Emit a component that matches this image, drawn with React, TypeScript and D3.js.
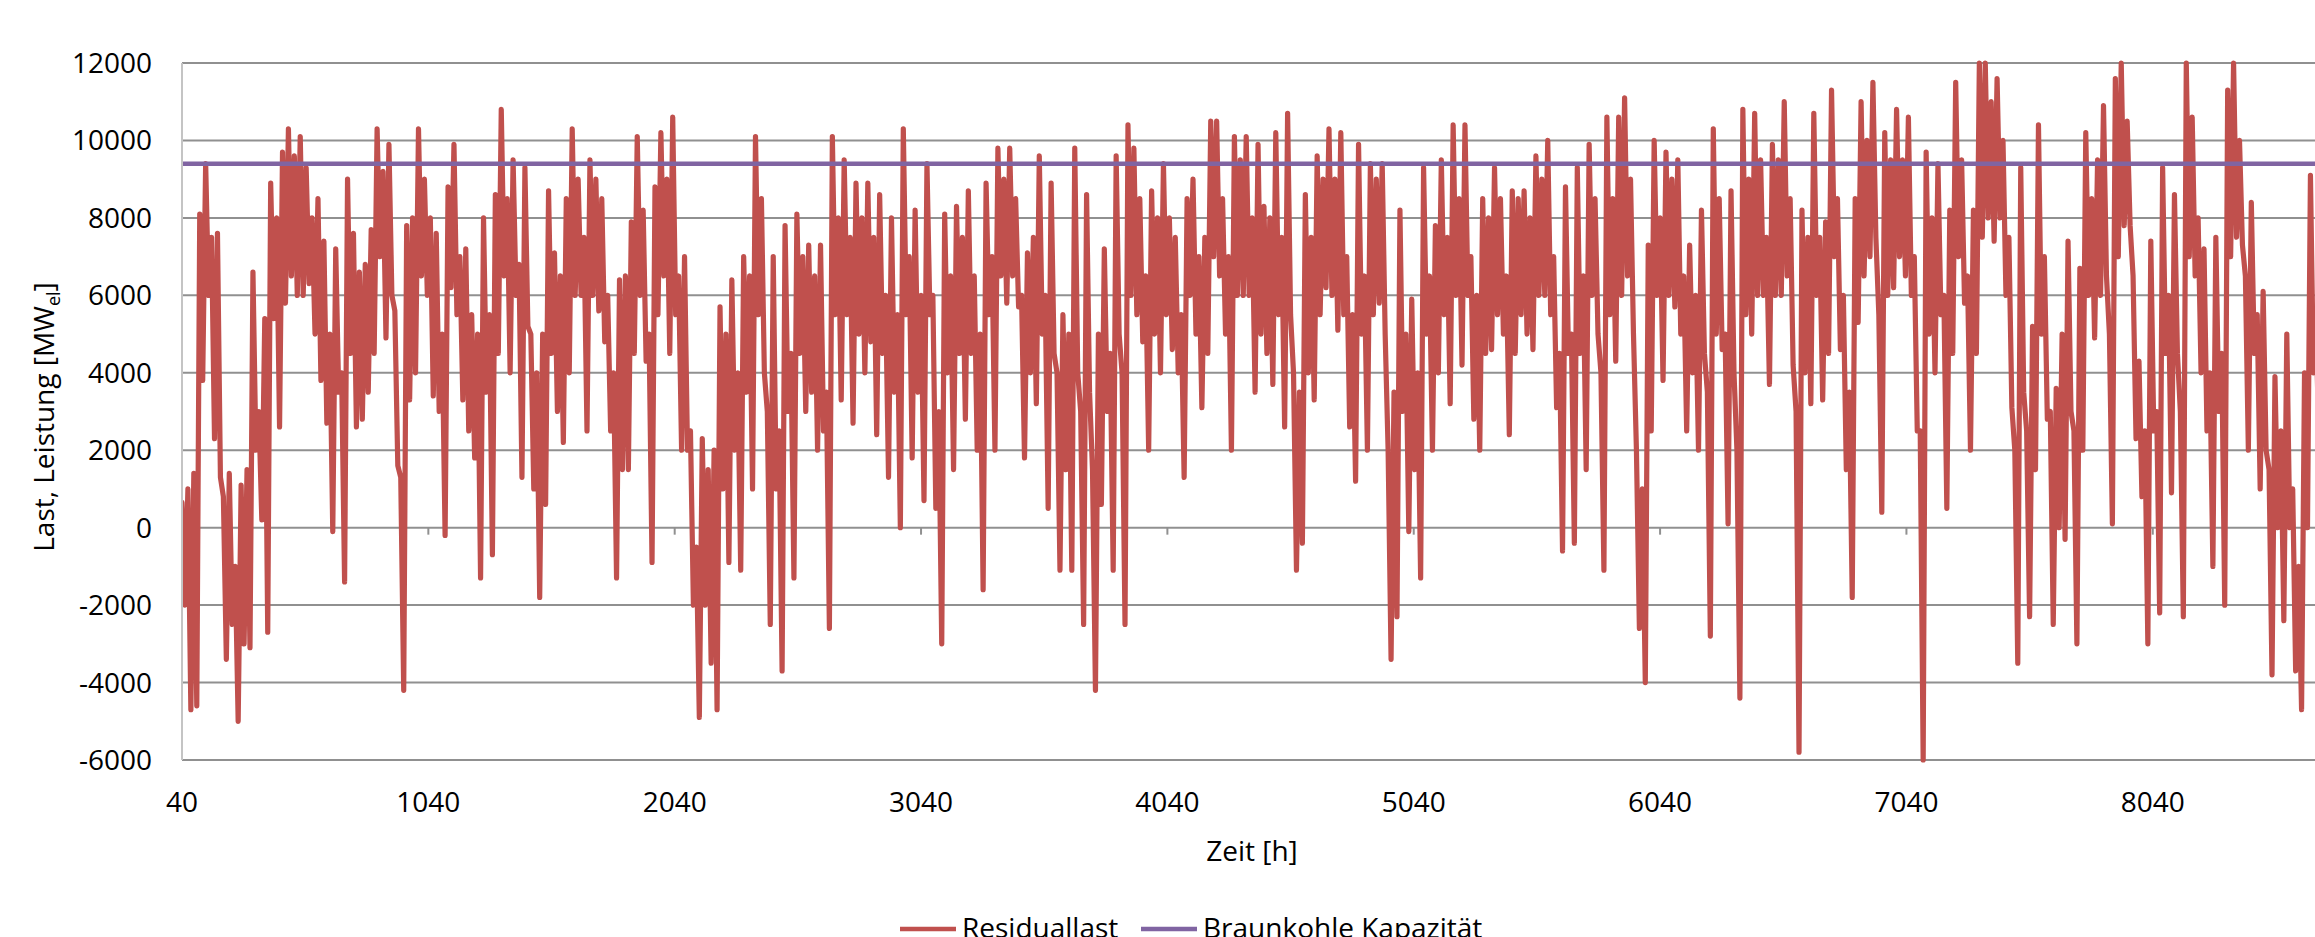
import React, { useEffect, useRef } from "react";
import { select, scaleLinear, line } from "d3";

// two readings per day: the day's top and bottom of the load band
const startHour = 40;
const stepHours = 24;
const halfStep = 12;

const residualJanFeb = [
  650, -4700, 1400, 8100, 9400, 2300, 7600, -3400, 1400, -5000, 1100, -3100, 6600, 200, -2700, 8900,
  2600, 9700, 10300, 6000, 10100, 6300, 5000, 8500, 2700, -100, 7200, -1400, 9000, 2600, 6600, 3500,
  7700, 10300, 4900, 9900, 1600, -4200, 3300, 8000, 10300, 6000, 3400, 7600, -200, 6200, 9900, 3300,
  7200, 5500, -1300, 3500, -700, 8600, 10800, 4000, 9500, 1300, 9300, 5000, -1800,
];
const residualJanFeb12h = [
  -2000, 1000, -4600, 3800, 6000, 7500, 1300, 800, -2500, -1000, -3000, 1500, 2000, 3000, 5400, 5400,
  8000, 5800, 6500, 9600, 6000, 9300, 8000, 3800, 7400, 5000, 3500, 4000, 4500, 7600, 2800, 6800,
  4500, 7000, 9200, 6000, 5600, 1300, 7800, 4000, 6500, 9000, 8000, 3000, 5000, 8800, 5500, 7000,
  2500, 1800, 5000, 8000, 5500, 4500, 6500, 8500, 6000, 6800, 5200, 1000, 4000,
];
const residualMarApr = [
  600, 8700, 7100, 2200, 4000, 10300, 6000, 2500, 9500, 5600, 8500, 2500, -1300, 6400, 1500, 7900,
  10100, 4300, -900, 8800, 10200, 4500, 10600, 2000, 7000, -2000, -4900, 2300, -3500, -4700, 5700, -900,
  6400, -1100, 7000, 1000, 10100, 4000, -2500, 7000, -3700, 7800, -1300, 8100, 3000, 7300, 2000, 7300,
  -2600, 10100, 3300, 9500, 2700, 8900, 4000, 8900, 2400, 8600, 1300, 8000, 0,
];
const residualMarApr12h = [
  5000, 4500, 3000, 6500, 8500, 6000, 9000, 7500, 6000, 9000, 4800, 6000, 4000, 1500, 6500, 4500,
  6000, 8200, 5000, 5500, 6500, 9000, 5500, 6500, 2000, 2500, -500, -2000, 1500, 2000, 1000, 5000,
  2000, 4000, 3500, 6500, 5500, 8500, 3000, 1000, 2500, 3000, 4500, 4500, 7000, 3500, 6500, 2500,
  3500, 5500, 8000, 5500, 7500, 5000, 8000, 4800, 7500, 4500, 6000, 3500, 5500,
];
const residualMayJun = [
  10300, 1800, 8200, 700, 9400, 500, -3000, 8100, 1500, 8300, 2800, 8700, 2000, -1600, 8900, 2000,
  9800, 5800, 9800, 5700, 1800, 7100, 3200, 9600, 500, 8900, -1100, 5500, -1100, 9800, -2500, 8600,
  -4200, 600, 7200, -1100, 9600, -2500, 10400, 9800, 4800, 2000, 8700, 4000, 9400, 4600, 7500, 1300,
  6000, 9000, 3100, 7500, 10500, 10500, 5000, 2000, 10100, 6000, 10100, 3500, 9900,
];
const residualMayJun12h = [
  5500, 7000, 3500, 6000, 5500, 6000, 3000, 4000, 6500, 4500, 7500, 4500, 6500, 5000, 5500, 7000,
  6500, 9000, 6500, 8500, 6000, 4000, 7500, 5000, 6000, 4500, 4000, 1500, 5000, 4000, 3000, 3500,
  1500, 5000, 3000, 4500, 5000, 4000, 6000, 5500, 8500, 6500, 5000, 8000, 5500, 8000, 4000, 5500,
  8500, 5000, 7000, 4500, 7000, 6500, 8500, 7000, 6000, 9500, 6000, 8000, 5000,
];
const residualJulAug = [
  8300, 3700, 10200, 2600, 10700, -1100, -400, 8600, 3300, 9600, 6200, 10300, 5100, 10200, 2600, 1200,
  9900, 2000, 9400, 5800, 9400, -3400, -2300, 8200, -100, 5900, -1300, 9300, 2000, 7800, 9500, 3200,
  10400, 4200, 10400, 2800, 2000, 8500, 4600, 9300, 5000, 2400, 8700, 5500, 8700, 4600, 9600, 6000,
  10000, 3100, -600, 8800, -400, 9300, 1500, 9900, 5000, -1100, 10600, 4300, 10600,
];
const residualJulAug12h = [
  4500, 8000, 5500, 7500, 5500, 4000, 3500, 4000, 7500, 5500, 9000, 6000, 9000, 5500, 7000, 5500,
  5000, 6500, 5500, 9000, 5000, 2000, 3500, 3000, 5000, 1500, 4000, 5000, 6500, 4000, 5500, 7500,
  6000, 8500, 6000, 7000, 6000, 4500, 8000, 5500, 8500, 6500, 4500, 8500, 5000, 8000, 6000, 9000,
  5500, 7000, 4500, 4500, 5000, 4500, 6500, 6000, 8500, 4000, 5500, 8500, 6000,
];
const residualSepOct = [
  11100, 5000, -2600, -4000, 7300, 10000, 3800, 9700, 5700, 9500, 2500, 7300, 2000, 8200, -2800, 10300,
  4600, 100, 8700, -4400, 10800, 5000, 10700, 6000, 3700, 9900, 6000, 11000, 4200, -5800, 8200, 3200,
  10700, 3300, 7900, 11300, 4600, 1500, -1800, 5300, 11000, 7000, 11500, 400, 10200, 6200, 10800, 6500,
  10600, 2500, -6000, 9700, 4000, 9400, 500, 8200, 11500, 5800, 2000, 8200, 12000,
];
const residualSepOct12h = [
  6500, 9000, 2000, 1000, 2500, 6000, 8000, 6000, 9000, 5000, 6500, 4000, 6000, 4500, 3500, 5000,
  8500, 5000, 4000, 2000, 5500, 9000, 6000, 9500, 7500, 6000, 9500, 6500, 8500, 3000, 4000, 7500,
  6000, 7500, 4500, 7000, 8500, 6000, 3500, 8500, 6500, 10000, 7500, 5500, 6000, 9500, 7000, 9500,
  6000, 7000, 2500, 5000, 8000, 5500, 6000, 4500, 7000, 9500, 6500, 4500, 7500,
];
const residualNovDec = [
  12000, 7400, 11600, 10000, 3100, -3500, 9300, -2300, 5200, 10400, 2800, -2500, 3600, -300, 7400, -3000,
  6700, 10200, 4900, 9500, 10900, 100, 11600, 12000, 7800, 2300, 4300, -3000, 7400, -2200, 9300, 900,
  8600, -2300, 12000, 10600, 4000, 7200, -1000, 7500, -2000, 11300, 12000, 7300, 2000, 8400, 1000, 6100,
  -3800, 3900, -2400, 5000, -3700, -4700, 0, 9100, 1700,
];
const residualNovDec12h = [
  8000, 11000, 8000, 6000, 7500, 2000, 3500, 2500, 1500, 5000, 7000, 3000, 0, 5000, 3000, 2500,
  2000, 6000, 8500, 6000, 6500, 5000, 7000, 7800, 10500, 6500, 800, 2500, 2500, 3000, 4500, 6000,
  4500, 3000, 7000, 6500, 8000, 2500, 4000, 3000, 4500, 7000, 7500, 10000, 6500, 4500, 5500, 2000,
  1500, 0, 2500, 0, 1000, -1000, 4000, 4000, 5000,
];

const braunkohleKapazitaet = 9400;

const yTicks = [-6000, -4000, -2000, 0, 2000, 4000, 6000, 8000, 10000, 12000];
const xTicks = [40, 1040, 2040, 3040, 4040, 5040, 6040, 7040, 8040];
const xDomain = [40, 8800];

const seriesNames = ["Residuallast", "Braunkohle Kapazität"];
const seriesColors = ["#C0504D", "#8064A2"];

const width = 2315;
const height = 937;
const plot = { left: 182, top: 63, right: 2340, bottom: 760 };
const font = "'Open Sans', 'Noto Sans', sans-serif";

export default function App() {
  const svgRef = useRef<SVGSVGElement>(null);

  useEffect(() => {
    const svg = select(svgRef.current);
    svg.selectAll("*").remove();

    const dayValues = [
      ...residualJanFeb,
      ...residualMarApr,
      ...residualMayJun,
      ...residualJulAug,
      ...residualSepOct,
      ...residualNovDec,
    ];
    const halfValues = [
      ...residualJanFeb12h,
      ...residualMarApr12h,
      ...residualMayJun12h,
      ...residualJulAug12h,
      ...residualSepOct12h,
      ...residualNovDec12h,
    ];
    // each day runs from its top down to its bottom, like the hourly line swinging
    const residual: { h: number; v: number }[] = [];
    dayValues.forEach((v, i) => {
      const w = halfValues[i];
      residual.push({ h: startHour + i * stepHours, v: Math.max(v, w) });
      residual.push({ h: startHour + i * stepHours + halfStep, v: Math.min(v, w) });
    });

    const x = scaleLinear().domain(xDomain).range([plot.left, plot.right]);
    const y = scaleLinear().domain([-6000, 12000]).range([plot.bottom, plot.top]);

    svg
      .append("defs")
      .append("clipPath")
      .attr("id", "plotClip")
      .append("rect")
      .attr("x", plot.left + 1)
      .attr("y", plot.top - 3)
      .attr("width", plot.right - plot.left)
      .attr("height", plot.bottom - plot.top + 6);

    // gridlines
    svg
      .append("g")
      .selectAll("line")
      .data(yTicks)
      .enter()
      .append("line")
      .attr("x1", plot.left)
      .attr("x2", plot.right)
      .attr("y1", (d) => y(d))
      .attr("y2", (d) => y(d))
      .attr("stroke", "#909090")
      .attr("stroke-width", 2);

    // value axis line
    svg
      .append("line")
      .attr("x1", plot.left)
      .attr("x2", plot.left)
      .attr("y1", plot.top)
      .attr("y2", plot.bottom)
      .attr("stroke", "#c4c4c4")
      .attr("stroke-width", 2);

    // category axis crosses at 0, tick marks pointing down
    svg
      .append("g")
      .selectAll("line")
      .data(xTicks.slice(1))
      .enter()
      .append("line")
      .attr("x1", (d) => x(d))
      .attr("x2", (d) => x(d))
      .attr("y1", y(0))
      .attr("y2", y(0) + 7)
      .attr("stroke", "#909090")
      .attr("stroke-width", 2);

    // y labels
    svg
      .append("g")
      .selectAll("text")
      .data(yTicks)
      .enter()
      .append("text")
      .attr("x", 152)
      .attr("y", (d) => y(d) + 10)
      .attr("text-anchor", "end")
      .style("font-family", font)
      .style("font-size", "28px")
      .text((d) => d);

    // x labels
    svg
      .append("g")
      .selectAll("text")
      .data(xTicks)
      .enter()
      .append("text")
      .attr("x", (d) => x(d))
      .attr("y", 812)
      .attr("text-anchor", "middle")
      .style("font-family", font)
      .style("font-size", "28px")
      .text((d) => d);

    const g = svg.append("g").attr("clip-path", "url(#plotClip)");

    g.append("path")
      .datum(residual)
      .attr("fill", "none")
      .attr("stroke", seriesColors[0])
      .attr("stroke-width", 5.2)
      .attr("stroke-linejoin", "round")
      .attr("stroke-linecap", "round")
      .attr(
        "d",
        line<{ h: number; v: number }>()
          .x((d) => x(d.h))
          .y((d) => y(d.v))
      );

    g.append("line")
      .attr("x1", x(xDomain[0]))
      .attr("x2", x(xDomain[1]))
      .attr("y1", y(braunkohleKapazitaet))
      .attr("y2", y(braunkohleKapazitaet))
      .attr("stroke", seriesColors[1])
      .attr("stroke-width", 4.5);

    // axis titles
    svg
      .append("text")
      .attr("x", 1252)
      .attr("y", 861)
      .attr("text-anchor", "middle")
      .style("font-family", font)
      .style("font-size", "28px")
      .text("Zeit [h]");

    const yTitle = svg
      .append("text")
      .attr("transform", "translate(54,417) rotate(-90)")
      .attr("text-anchor", "middle")
      .style("font-family", font)
      .style("font-size", "28px");
    yTitle.append("tspan").text("Last, Leistung [MW");
    yTitle.append("tspan").attr("dy", 6).style("font-size", "18px").text("el");
    yTitle.append("tspan").attr("dy", -6).text("]");

    // legend (cut by the bottom edge, as in the source picture)
    const legendX = [900, 1141];
    const legend = svg
      .append("g")
      .selectAll("g")
      .data(seriesNames)
      .enter()
      .append("g");
    legend
      .append("line")
      .attr("x1", (d, i) => legendX[i])
      .attr("x2", (d, i) => legendX[i] + 56)
      .attr("y1", 929)
      .attr("y2", 929)
      .attr("stroke", (d, i) => seriesColors[i])
      .attr("stroke-width", 4.5);
    legend
      .append("text")
      .attr("x", (d, i) => legendX[i] + 62)
      .attr("y", 938)
      .style("font-family", font)
      .style("font-size", "28px")
      .text((d) => d);
  }, []);

  return (
    <svg
      ref={svgRef}
      width={width}
      height={height}
      style={{ position: "absolute", left: 0, top: 0, background: "white" }}
    />
  );
}
